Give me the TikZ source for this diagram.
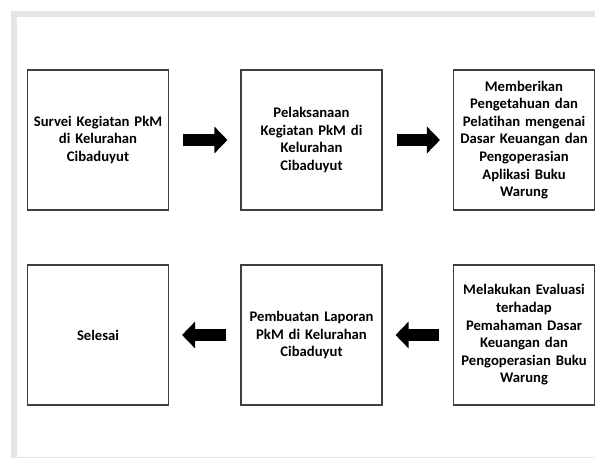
\documentclass[tikz,border=0pt]{standalone}
\usepackage{fontspec}
\setmainfont[Ligatures=NoCommon]{Carlito}
\usetikzlibrary{positioning, arrows.meta}
\tikzset{
  kotak/.style={draw=black!75, line width=0.9pt, minimum width=105pt, minimum height=105pt,
    text width=99pt, align=center, font=\bfseries\fontsize{11}{13.2}\selectfont},
  panah/.style={line width=9pt, -{Triangle[length=9.75pt, width=19.5pt]},
    shorten <=10.5pt, shorten >=9.75pt}
}
\begin{document}
\begin{tikzpicture}[x=0.75pt, y=-0.75pt]
                \useasboundingbox (0,0) rectangle (595,458);
                % bingkai halaman
                \fill[black!10] (11,11) rectangle (595,458);
                \fill[white] (16.5,16.5) rectangle (595,457);
                % baris atas
                \draw (98,140) node[kotak] (survei) {Survei Kegiatan PkM\\ di Kelurahan\\ Cibaduyut};
                \draw (311.5,140) node[kotak] (pelaksanaan) {Pelaksanaan\\ Kegiatan PkM di\\ Kelurahan\\ Cibaduyut};
                \draw (524,140) node[kotak] (pelatihan) {Memberikan\\ Pengetahuan dan\\ Pelatihan mengenai\\ Dasar Keuangan dan\\ Pengoperasian\\ Aplikasi Buku\\ Warung};
                % baris bawah
                \draw (98,335) node[kotak] (selesai) {Selesai};
                \draw (311.5,335) node[kotak] (laporan) {Pembuatan Laporan\\ PkM di Kelurahan\\ Cibaduyut};
                \draw (524,335) node[kotak] (evaluasi) {Melakukan Evaluasi\\ terhadap\\ Pemahaman Dasar\\ Keuangan dan\\ Pengoperasian Buku\\ Warung};
                % panah
                \draw[panah] (survei) -- (pelaksanaan);
                \draw[panah] (pelaksanaan) -- (pelatihan);
                \draw[panah] (evaluasi) -- (laporan);
                \draw[panah] (laporan) -- (selesai);
\end{tikzpicture}
\end{document}
